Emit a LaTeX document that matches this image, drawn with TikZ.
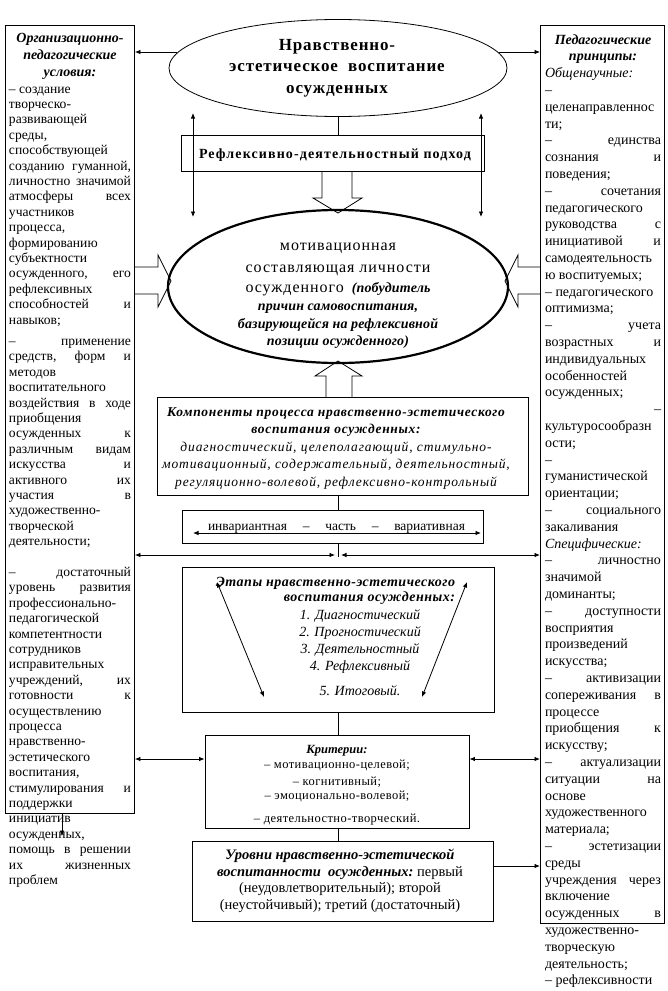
\documentclass[tikz,border=0pt]{standalone}
\usepackage{fontspec}
\setmainfont{Liberation Serif}
\usetikzlibrary{arrows.meta,shapes.geometric}
\newcommand\lnL[1]{\hbox to\hsize{#1\hfil}}
\newcommand\lnJ[1]{\hbox to\hsize{#1}}
\newcommand\lnC[1]{\hbox to\hsize{\hfil#1\hfil}}
\newcommand\lnR[1]{\hbox to\hsize{\hfil#1}}
\newcommand\tbox[2]{\vbox{\hsize=#1\relax\hrule height0pt\prevdepth=0pt\relax#2}}
\newcommand\bi{\bfseries\itshape}
\newcommand\fs[2]{\fontsize{#1}{#2}\selectfont}
\newcommand\ls[1]{\addfontfeatures{LetterSpace=#1}}
\begin{document}
\begin{tikzpicture}[x=1pt,y=-1pt,line width=0.8pt,
  box/.style={draw,line width=0.9pt,inner sep=0pt,anchor=north west},
  cbox/.style={draw,line width=0.9pt,inner sep=0pt},
  txt/.style={inner sep=0pt,outer sep=0pt},
  arr/.style={-{Latex[length=5.5pt,width=4.5pt]}},
  darr/.style={{Latex[length=5.5pt,width=4.5pt]}-{Latex[length=5.5pt,width=4.5pt]}}]
\fill[white] (0,0) rectangle (668,991);
\useasboundingbox (0,0) rectangle (668,991);

% side boxes
\node[box,minimum width=129pt,minimum height=788pt] (lbox) at (5,25) {};
\node[box,minimum width=124pt,minimum height=898pt] (rbox) at (540,25) {};

% central shapes
\node[draw,ellipse,inner sep=0pt,minimum width=338pt,minimum height=97pt] (e1) at (338,68) {};
\node[cbox,minimum width=303pt,minimum height=36pt] (rfx) at (332.5,153) {};
\node[draw,ellipse,line width=2.2pt,inner sep=0pt,minimum width=340pt,minimum height=153pt] (e2) at (338,286.5) {};
\node[cbox,minimum width=371pt,minimum height=98pt] (comp) at (342.5,446) {};
\node[cbox,minimum width=301pt,minimum height=33pt] (inv) at (332.5,526.5) {};
\node[cbox,minimum width=312pt,minimum height=145pt] (stg) at (338,639.5) {};
\node[cbox,minimum width=264pt,minimum height=93pt] (crit) at (337,781.5) {};
\node[cbox,minimum width=301pt,minimum height=80pt] (lev) at (342.5,881) {};

% helper coordinates
\coordinate (mx) at (338,0);
\coordinate (y52) at (0,52);
\coordinate (hl) at (335,555);
\coordinate (hr) at (341,555);
\coordinate (j1) at (338,557);
\coordinate (cy) at (0,759);
\coordinate (ly) at (0,866);
\coordinate (va1) at (193,113); \coordinate (va2) at (193,217);
\coordinate (vb1) at (481,113); \coordinate (vb2) at (481,217);
\coordinate (ia) at (193,533); \coordinate (ib) at (481,533);
\coordinate (da1) at (217,582); \coordinate (da2) at (264,697);
\coordinate (db1) at (467,582); \coordinate (db2) at (422,697);
\coordinate (sa) at (62,836);

% connectors
\draw[arr] (e1.west |- y52) ++(8,0) -- (lbox.east |- y52);
\draw[arr] (e1.east |- y52) ++(-8,0) -- (rbox.west |- y52);
\draw (e1.south -| mx) -- (rfx.north -| mx);
\draw[darr] (va1) -- (va2);
\draw[darr] (vb1) -- (vb2);
% open arrow down
\draw (322,171) -- (322,198) -- (313,198) -- (338,213) -- (362,198) -- (352,198) -- (352,171);
% open arrows from side boxes
\draw (lbox.east |- 0,267) -- (158,267) -- (158,255) -- (171,281) -- (158,307) -- (158,294) -- (lbox.east |- 0,294);
\draw (rbox.west |- 0,267) -- (518,267) -- (518,255) -- (505,281) -- (518,307) -- (518,294) -- (rbox.west |- 0,294);
% open arrow up
\draw (326,397) -- (326,376) -- (315,376) -- (338,361) -- (362,376) -- (352,376) -- (352,397);
\draw (comp.south -| mx) -- (inv.north -| mx);
\draw (inv.south -| mx) -- (j1);
\draw[darr] (lbox.east |- hl) -- (hl);
\draw[darr] (hr) -- (rbox.west |- hr);
\draw[darr] (ia) -- (ib);
\draw[darr] (da1) -- (da2);
\draw[darr] (db1) -- (db2);
\draw (stg.south -| mx) -- (crit.north -| mx);
\draw[darr] (lbox.east |- cy) -- (crit.west |- cy);
\draw[darr] (crit.east |- cy) -- (rbox.west |- cy);
\draw (crit.south -| mx) -- (lev.north -| mx);
\draw[arr] (lev.east |- ly) -- (rbox.west |- ly);
\draw[arr] (lbox.south -| sa) -- (sa);

% texts
\node[txt,anchor=north] (e1t) at (337,28.5) {\tbox{320pt}{\fs{17}{21.5}\bfseries\ls{5}
  \lnC{Нравственно-}\lnC{эстетическое\ \ воспитание}\lnC{осужденных}}};
\node[txt,anchor=base] (rfxt) at (335,158) {\fs{14}{17}\bfseries\ls{8}Рефлексивно-деятельностный подход};
\node[txt,anchor=north] (e2t) at (338,228) {\tbox{330pt}{\fs{16}{22}
  {\ls{6}\lnC{мотивационная}\lnC{составляющая личности}}
  \baselineskip=20pt\lnC{{\ls{6}осужденного}\ \ {\bi\fs{14}{18}\ls{1}(побудитель}}
  \bi\fs{14}{18}\ls{1}\lnC{причин самовоспитания,}\lnC{базирующейся на рефлексивной}
  \baselineskip=17pt\lnC{позиции осужденного)}}};
\node[txt,anchor=north] (compt) at (336,398.5) {\tbox{370pt}{\fs{13.5}{17.5}
  {\bi\ls{5}\lnC{Компоненты процесса нравственно-эстетического}\lnC{воспитания осужденных:}}
  \itshape\ls{6.5}
  \lnC{диагностический, целеполагающий, стимульно-}
  \lnC{мотивационный, содержательный, деятельностный,}
  \lnC{регуляционно-волевой, рефлексивно-контрольный}}};
\node[txt,anchor=base] (invt) at (336.5,530) {\fs{13.5}{16}\hbox to 257pt{инвариантная\hfill–\hfill часть\hfill–\hfill вариативная}};
\node[txt,anchor=north east] (stgh) at (455,570.5) {\tbox{270pt}{\fs{14}{15.5}\bi\ls{3.5}
  \lnR{Этапы нравственно-эстетического}\lnR{воспитания осужденных:}}};
\node[txt,anchor=north] (stgi) at (360,602) {\tbox{200pt}{\fs{14}{17}\itshape
  \lnC{1. Диагностический}\lnC{2. Прогностический}\lnC{3. Деятельностный}\lnC{4. Рефлексивный}
  \baselineskip=25pt\lnC{5. Итоговый.}}};
\node[txt,anchor=north] (critt) at (337,737) {\tbox{250pt}{\fs{12.5}{16}
  {\bi\lnC{Критерии:}}\ls{3.5}
  \baselineskip=15pt\lnC{– мотивационно-целевой;}
  \baselineskip=17pt\lnC{– когнитивный;}
  \baselineskip=14pt\lnC{– эмоционально-волевой;}
  \baselineskip=23pt\lnC{– деятельностно-творческий.}}};
\node[txt,anchor=north] (levt) at (340,842) {\tbox{300pt}{\fs{14.5}{17}\bi
  \lnC{Уровни нравственно-эстетической}
  \lnC{воспитанности\ \ осужденных:{\mdseries\upshape\ первый}}
  \mdseries\upshape\baselineskip=16.5pt
  \lnC{(неудовлетворительный); второй}
  \lnC{(неустойчивый); третий (достаточный)}}};

% left box text
\node[txt,anchor=north west] (ltxt) at (9,25) {\tbox{122pt}{\fs{14}{17}\bi
  \lnC{Организационно-}\lnC{педагогические}\lnC{условия:}
  \fs{13.6}{17}\mdseries\upshape
  \lnL{– создание}
  \baselineskip=15.4pt
  \lnL{творческо-}\lnL{развивающей}\lnL{среды,}\lnL{способствующей}
  \lnJ{созданию\hfill гуманной,}\lnJ{личностно\hfill значимой}
  \lnJ{атмосферы\hfill всех}\lnL{участников}\lnL{процесса,}\lnL{формированию}
  \lnL{субъектности}\lnJ{осужденного,\hfill его}\lnL{рефлексивных}
  \lnJ{способностей\hfill и}\lnL{навыков;}
  \vskip 6pt
  \lnJ{–\hfill применение}\lnJ{средств,\hfill форм\hfill и}\lnL{методов}
  \lnL{воспитательного}\lnJ{воздействия\hfill в\hfill ходе}\lnL{приобщения}
  \lnJ{осужденных\hfill к}\lnJ{различным\hfill видам}\lnJ{искусства\hfill и}
  \lnJ{активного\hfill их}\lnJ{участия\hfill в}\lnL{художественно-}
  \lnL{творческой}\lnL{деятельности;}
  \vskip 15.4pt
  \lnJ{–\hfill достаточный}\lnJ{уровень\hfill развития}\lnL{профессионально-}
  \lnL{педагогической}\lnL{компетентности}\lnL{сотрудников}\lnL{исправительных}
  \lnJ{учреждений,\hfill их}\lnJ{готовности\hfill к}\lnL{осуществлению}
  \lnL{процесса}\lnL{нравственно-}\lnL{эстетического}\lnL{воспитания,}
  \lnJ{стимулирования\hfill и}\lnL{поддержки}\lnL{инициатив}\lnL{осужденных,}
  \lnJ{помощь\hfill в\hfill решении}\lnJ{их\hfill жизненных}\lnL{проблем}}};

% right box text
\node[txt,anchor=north west] (rtxt) at (545,27.2) {\tbox{116pt}{\fs{14}{16.8}\bi
  \lnC{Педагогические}\lnC{принципы:}
  \mdseries\itshape\lnL{Общенаучные:}\upshape
  \lnL{–}\lnL{целенаправленнос}\lnL{ти;}
  \lnJ{–\hfill единства}\lnJ{сознания\hfill и}\lnL{поведения;}
  \lnJ{–\hfill сочетания}\lnL{педагогического}\lnJ{руководства\hfill с}
  \lnJ{инициативой\hfill и}\lnL{самодеятельность}\lnL{ю воспитуемых;}
  \lnL{– педагогического}\lnL{оптимизма;}\lnJ{–\hfill учета}
  \lnJ{возрастных\hfill и}\lnL{индивидуальных}\lnL{особенностей}
  \lnL{осужденных;}\lnR{–}\lnL{культуросообразн}\lnL{ости;}
  \lnL{–}\lnL{гуманистической}\lnL{ориентации;}
  \lnJ{–\hfill социального}\lnL{закаливания}
  \itshape\lnL{Специфические:}\upshape
  \lnJ{–\hfill личностно}\lnL{значимой}\lnL{доминанты;}
  \lnJ{–\hfill доступности}\lnL{восприятия}\lnL{произведений}\lnL{искусства;}
  \lnJ{–\hfill активизации}\lnJ{сопереживания\hfill в}\lnL{процессе}
  \lnJ{приобщения\hfill к}\lnL{искусству;}
  \lnJ{–\hfill актуализации}\lnJ{ситуации\hfill на}\lnL{основе}
  \lnL{художественного}\lnL{материала;}
  \lnJ{–\hfill эстетизации}\lnL{среды}\lnJ{учреждения\hfill через}
  \lnL{включение}\lnJ{осужденных\hfill в}\lnL{художественно-}
  \lnL{творческую}\lnL{деятельность;}\lnL{– рефлексивности}}};
\end{tikzpicture}
\end{document}
